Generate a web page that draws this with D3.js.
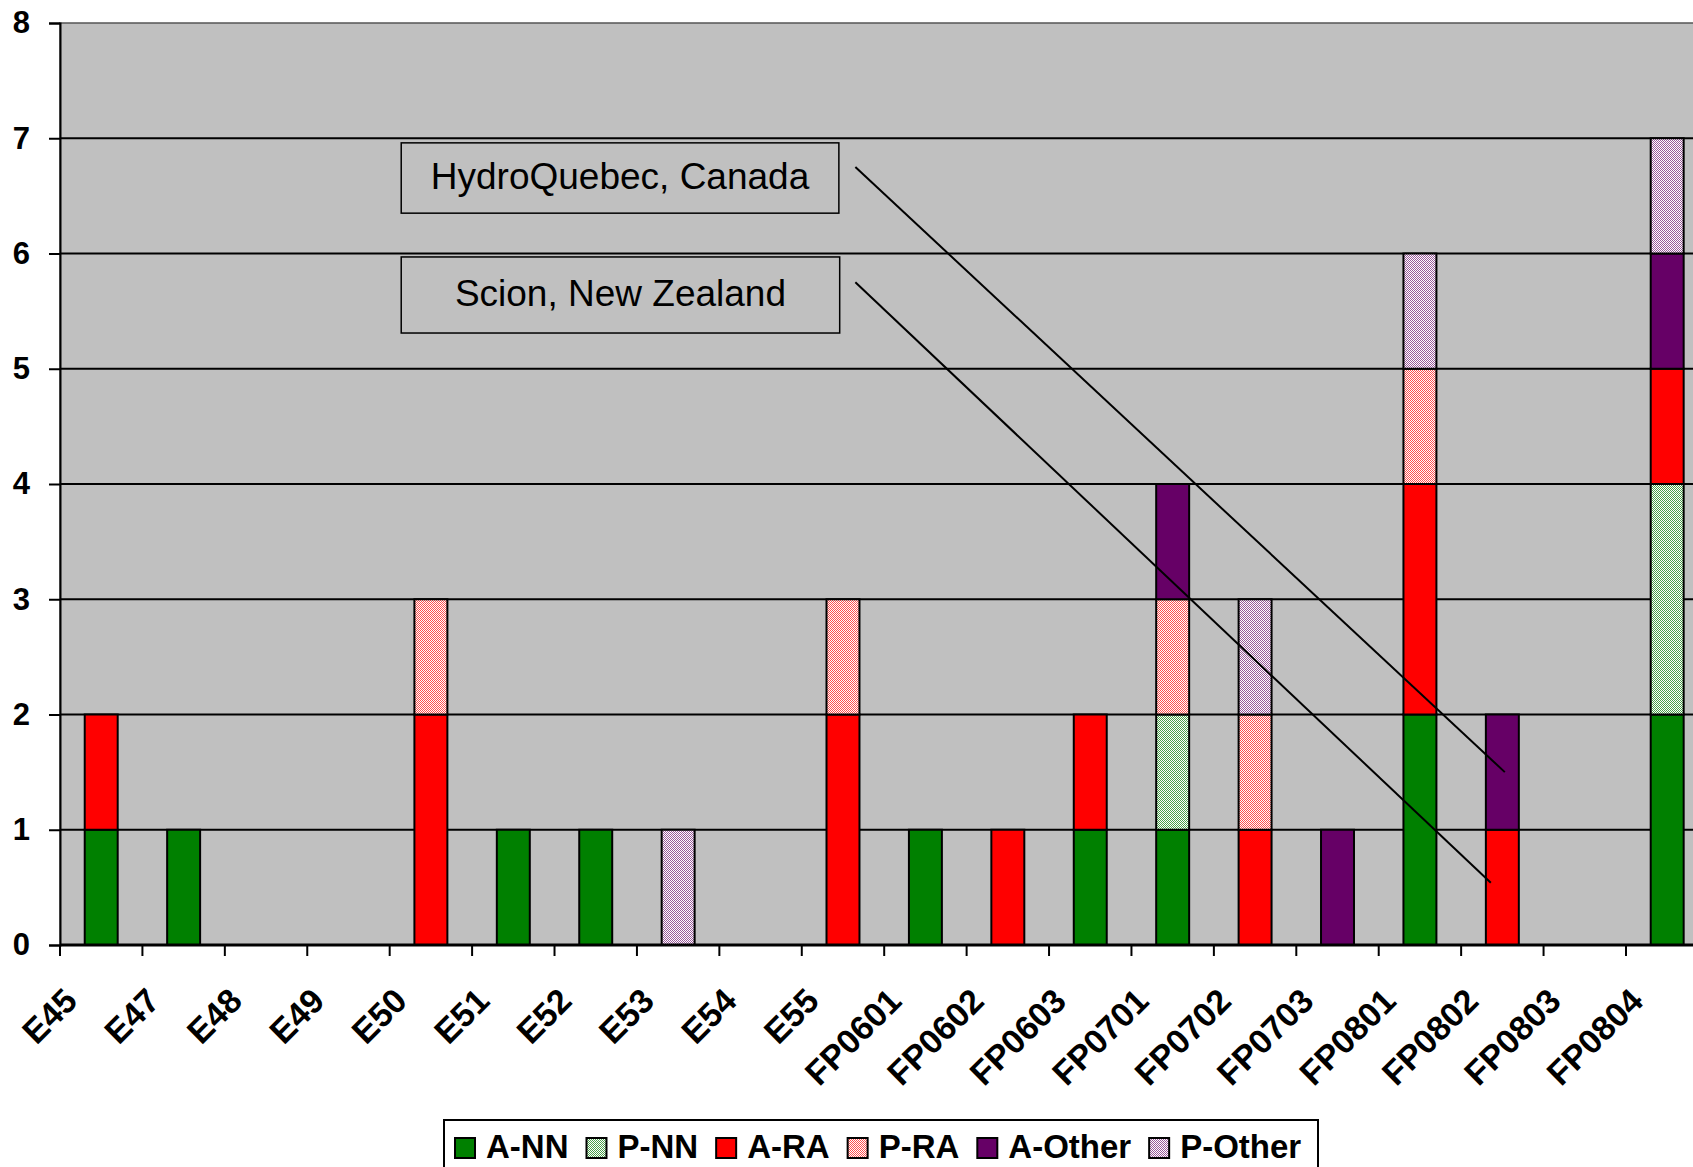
<!DOCTYPE html>
<html>
<head>
<meta charset="utf-8">
<script src="https://cdn.jsdelivr.net/npm/d3@7"></script>
<style>
  html, body { margin: 0; padding: 0; background: #ffffff; overflow: hidden; }
  svg { display: block; font-family: "Liberation Sans", Arial, sans-serif; }
</style>
</head>
<body>
<svg id="chart" width="1693" height="1167"></svg>
<script>
// Projects per action, split by participation type and research area
const categories = ["E45", "E47", "E48", "E49", "E50", "E51", "E52", "E53", "E54", "E55",
  "FP0601", "FP0602", "FP0603", "FP0701", "FP0702", "FP0703", "FP0801", "FP0802", "FP0803", "FP0804"];
const seriesNames = ["A-NN", "P-NN", "A-RA", "P-RA", "A-Other", "P-Other"];
const aNN    = [1, 1, 0, 0, 0, 1, 1, 0, 0, 0, 1, 0, 1, 1, 0, 0, 2, 0, 0, 2];
const pNN    = [0, 0, 0, 0, 0, 0, 0, 0, 0, 0, 0, 0, 0, 1, 0, 0, 0, 0, 0, 2];
const aRA    = [1, 0, 0, 0, 2, 0, 0, 0, 0, 2, 0, 1, 1, 0, 1, 0, 2, 1, 0, 1];
const pRA    = [0, 0, 0, 0, 1, 0, 0, 0, 0, 1, 0, 0, 0, 1, 1, 0, 1, 0, 0, 0];
const aOther = [0, 0, 0, 0, 0, 0, 0, 0, 0, 0, 0, 0, 0, 1, 0, 1, 0, 1, 0, 1];
const pOther = [0, 0, 0, 0, 0, 0, 0, 1, 0, 0, 0, 0, 0, 0, 1, 0, 1, 0, 0, 1];
const yTicks = [0, 1, 2, 3, 4, 5, 6, 7, 8];

// Callouts: box extents [u0, u1, v0, v1] in category-step / value units, leader line [u, v] pairs
const calloutTexts = ["HydroQuebec, Canada", "Scion, New Zealand"];
const calloutBoxes = [[4.14, 9.45, 6.96, 6.35], [4.14, 9.46, 5.97, 5.31]];
const calloutLines = [[[9.65, 6.75], [17.53, 1.50]], [[9.65, 5.75], [17.36, 0.54]]];

const seriesValues = [aNN, pNN, aRA, pRA, aOther, pOther];
const seriesColors = ["#008000", "#4aa04a", "#ff0000", "#ff5050", "#660066", "#9a5a9a"];
const seriesPatterned = [false, true, false, true, false, true];

const svg = d3.select("#chart");
const plotLeft = 60, plotTop = 23, plotBottom = 945;
const step = 82.42;
const plotRight = plotLeft + step * categories.length;

const x = d3.scaleBand().domain(categories).range([plotLeft, plotRight])
  .paddingInner(0.6).paddingOuter(0.3);
const u = d3.scaleLinear().domain([0, categories.length]).range([plotLeft, plotRight]);
const y = d3.scaleLinear().domain([0, 8]).range([plotBottom, plotTop]);

// Dithered fills for the "P-" series
const defs = svg.append("defs");
seriesNames.forEach((name, i) => {
  if (!seriesPatterned[i]) return;
  const p = defs.append("pattern").attr("id", "pat" + i)
    .attr("width", 2).attr("height", 2).attr("patternUnits", "userSpaceOnUse");
  p.append("rect").attr("width", 2).attr("height", 2).attr("fill", "#ffffff");
  p.append("rect").attr("x", 0).attr("y", 0).attr("width", 1).attr("height", 1).attr("fill", seriesColors[i]);
  p.append("rect").attr("x", 1).attr("y", 1).attr("width", 1).attr("height", 1).attr("fill", seriesColors[i]);
});
const fillOf = i => seriesPatterned[i] ? `url(#pat${i})` : seriesColors[i];

// Plot background
svg.append("rect").attr("x", plotLeft).attr("y", plotTop)
  .attr("width", plotRight - plotLeft).attr("height", plotBottom - plotTop)
  .attr("fill", "#c0c0c0").attr("stroke", "#555").attr("stroke-width", 1.5);

// Gridlines
svg.append("g").selectAll("line").data(yTicks.filter(t => t > 0 && t < 8)).join("line")
  .attr("x1", plotLeft).attr("x2", plotRight)
  .attr("y1", d => y(d)).attr("y2", d => y(d))
  .attr("stroke", "#000").attr("stroke-width", 2);

// Stacked bars
const rows = categories.map((c, j) => {
  const r = { cat: c };
  seriesNames.forEach((s, i) => r[s] = seriesValues[i][j]);
  return r;
});
const stacked = d3.stack().keys(seriesNames)(rows);
svg.append("g").selectAll("g").data(stacked).join("g")
  .attr("fill", (d, i) => fillOf(i))
  .selectAll("rect").data(d => d.filter(s => s[1] - s[0] > 0)).join("rect")
  .attr("x", d => x(d.data.cat)).attr("width", x.bandwidth())
  .attr("y", d => y(d[1])).attr("height", d => y(d[0]) - y(d[1]))
  .attr("stroke", "#000").attr("stroke-width", 2);

// Y axis
const yAxis = svg.append("g").attr("transform", `translate(${plotLeft},0)`)
  .call(d3.axisLeft(y).tickValues(yTicks).tickFormat(d3.format("d")).tickSize(11).tickPadding(19));
yAxis.select(".domain").attr("stroke", "#000").attr("stroke-width", 2);
yAxis.selectAll(".tick line").attr("stroke", "#000").attr("stroke-width", 2);
yAxis.selectAll(".tick text").attr("font-size", 31).attr("font-weight", "bold")
  .attr("fill", "#000").attr("font-family", "Liberation Sans, Arial, sans-serif");

// X axis: ticks between categories, rotated labels
const xg = svg.append("g");
xg.append("line").attr("x1", plotLeft).attr("x2", plotRight)
  .attr("y1", plotBottom).attr("y2", plotBottom).attr("stroke", "#000").attr("stroke-width", 3);
xg.selectAll("line.tk").data(d3.range(categories.length + 1)).join("line").attr("class", "tk")
  .attr("x1", d => u(d)).attr("x2", d => u(d))
  .attr("y1", plotBottom).attr("y2", plotBottom + 11)
  .attr("stroke", "#000").attr("stroke-width", 2);
xg.selectAll("text").data(categories).join("text")
  .attr("transform", d => `translate(${x(d) + x.bandwidth() / 2 - 22},${plotBottom + 58}) rotate(-45)`)
  .attr("text-anchor", "end")
  .attr("font-size", 34).attr("font-weight", "bold").attr("fill", "#000")
  .text(d => d);

// Callout boxes and leader lines
const cg = svg.append("g");
calloutBoxes.forEach((b, i) => {
  const x0 = u(b[0]), x1 = u(b[1]), y0 = y(b[2]), y1 = y(b[3]);
  cg.append("rect").attr("x", x0).attr("y", y0).attr("width", x1 - x0).attr("height", y1 - y0)
    .attr("fill", "#c0c0c0").attr("stroke", "#000").attr("stroke-width", 1.5);
  cg.append("text").attr("x", (x0 + x1) / 2).attr("y", (y0 + y1) / 2).attr("dy", "0.3em")
    .attr("text-anchor", "middle").attr("font-size", 37).attr("fill", "#000")
    .text(calloutTexts[i]);
});
calloutLines.forEach(l => {
  cg.append("line").attr("x1", u(l[0][0])).attr("y1", y(l[0][1]))
    .attr("x2", u(l[1][0])).attr("y2", y(l[1][1]))
    .attr("stroke", "#000").attr("stroke-width", 2);
});

// Legend
const lg = svg.append("g");
const legLeft = 444, legTop = 1120, legRight = 1318;
lg.append("rect").attr("x", legLeft).attr("y", legTop).attr("width", legRight - legLeft).attr("height", 70)
  .attr("fill", "#fff").attr("stroke", "#000").attr("stroke-width", 2);
let cx = legLeft + 11;
seriesNames.forEach((s, i) => {
  lg.append("rect").attr("x", cx).attr("y", 1138).attr("width", 20).attr("height", 20)
    .attr("fill", fillOf(i)).attr("stroke", "#000").attr("stroke-width", 2);
  const t = lg.append("text").attr("x", cx + 31).attr("y", 1158)
    .attr("font-size", 33).attr("font-weight", "bold").attr("fill", "#000").text(s);
  cx += 31 + t.node().getComputedTextLength() + 18;
});
</script>
</body>
</html>
